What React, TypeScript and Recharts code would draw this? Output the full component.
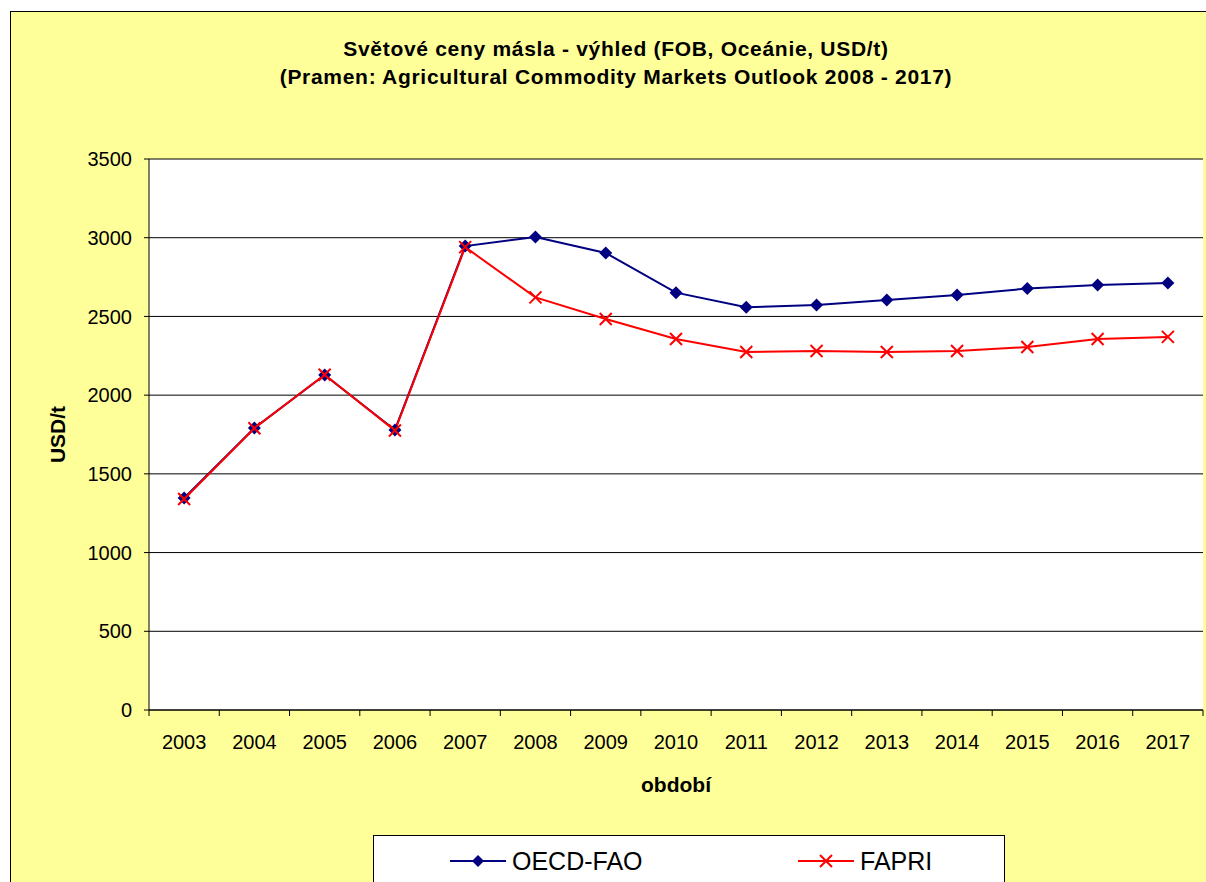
import { LineChart, Line, XAxis, YAxis, CartesianGrid, Legend } from 'recharts';

const categories = ['2003', '2004', '2005', '2006', '2007', '2008', '2009', '2010', '2011', '2012', '2013', '2014', '2015', '2016', '2017'];
const oecdFao = [1347, 1791, 2128, 1779, 2947, 3005, 2903, 2651, 2558, 2573, 2604, 2636, 2677, 2699, 2712];
const fapri = [1340, 1790, 2130, 1775, 2940, 2621, 2484, 2357, 2274, 2280, 2274, 2280, 2306, 2357, 2370];
const yTicks = [0, 500, 1000, 1500, 2000, 2500, 3000, 3500];
const seriesOrder = ['oecd', 'fapri'];

const data = categories.map((year, i) => ({ year, oecd: oecdFao[i], fapri: fapri[i] }));

const FONT = '"Liberation Sans", Arial, sans-serif';
const NAVY = '#000080';
const RED = '#FF0000';
const TICK_SIZE = 6;
const TICK_MARGIN = 19;

const Diamond = ({ cx, cy, r = 6.5 }: any) => (
  <path d={`M${cx},${cy - r}L${cx + r},${cy}L${cx},${cy + r}L${cx - r},${cy}Z`} fill={NAVY} />
);

const Cross = ({ cx, cy, r = 6 }: any) => (
  <path d={`M${cx - r},${cy - r}L${cx + r},${cy + r}M${cx - r},${cy + r}L${cx + r},${cy - r}`} stroke={RED} strokeWidth={2} fill="none" />
);

// ticks sit between categories (Excel style), labels in the middle
const YearTick = ({ x, y, payload, index }: any) => {
  const half = payload?.offset ?? 0;
  const top = y - TICK_MARGIN - TICK_SIZE;
  const bottom = y - TICK_MARGIN;
  return (
    <g>
      <line x1={x - half} x2={x - half} y1={top} y2={bottom} stroke="#000" />
      {index === categories.length - 1 && <line x1={x + half} x2={x + half} y1={top} y2={bottom} stroke="#000" />}
      <text x={x} y={y} dy="0.71em" textAnchor="middle" fontSize={20} fill="#000" fontFamily={FONT}>
        {payload.value}
      </text>
    </g>
  );
};

const LegendBox = ({ payload }: any) => {
  const items = [...(payload || [])].sort((a: any, b: any) => seriesOrder.indexOf(a.dataKey) - seriesOrder.indexOf(b.dataKey));
  return (
    <div style={{ position: 'relative', width: 632, height: 60, background: '#fff', border: '1px solid #000', boxSizing: 'border-box', fontFamily: FONT }}>
      {items.map((item: any, i: number) => (
        <div key={item.value} style={{ position: 'absolute', left: 76 + i * 348, top: 8, height: 34, display: 'flex', alignItems: 'center' }}>
          <svg width={56} height={20}>
            <line x1={0} x2={56} y1={10} y2={10} stroke={item.color} strokeWidth={2} />
            {item.dataKey === 'oecd' ? <Diamond cx={28} cy={10} r={6} /> : <Cross cx={28} cy={10} r={6} />}
          </svg>
          <span style={{ fontSize: 25, marginLeft: 6, color: '#000', lineHeight: '34px' }}>{item.value}</span>
        </div>
      ))}
    </div>
  );
};

export default function App() {
  return (
    <div style={{ position: 'fixed', left: 0, top: 0, width: 1206, height: 882, overflow: 'hidden', background: '#fff' }}>
      <div style={{ position: 'absolute', left: 10, top: 11, width: 1212, height: 900, background: '#FFFF99', border: '1px solid #000' }} />
      <div style={{ position: 'absolute', left: 10, top: 35, width: 1212, textAlign: 'center', fontFamily: FONT, fontWeight: 'bold', fontSize: 21, lineHeight: '28px', letterSpacing: 0.7, color: '#000' }}>
        <div>Světové ceny másla - výhled (FOB, Oceánie, USD/t)</div>
        <div>(Pramen: Agricultural Commodity Markets Outlook 2008 - 2017)</div>
      </div>
      <div style={{ position: 'absolute', left: 0, top: 0 }}>
        <LineChart width={1206} height={882} data={data} margin={{ top: 159, right: 3, left: 39, bottom: 82 }}>
          <CartesianGrid vertical={false} stroke="#000" fill="#fff" fillOpacity={1} />
          <XAxis
            dataKey="year"
            scale="band"
            height={90}
            tickLine={false}
            tickSize={TICK_SIZE}
            tickMargin={TICK_MARGIN}
            axisLine={{ stroke: '#000' }}
            tick={<YearTick />}
            interval={0}
            label={{ value: 'období', position: 'insideBottom', offset: 8, fontSize: 21, fontWeight: 'bold', fill: '#000', fontFamily: FONT }}
          />
          <XAxis xAxisId="top" dataKey="year" orientation="top" height={0} tick={false} tickLine={false} axisLine={{ stroke: '#808080' }} />
          <YAxis
            width={110}
            domain={[0, 3500]}
            ticks={yTicks}
            interval={0}
            tickSize={5}
            tickMargin={12}
            axisLine={{ stroke: '#000' }}
            tickLine={{ stroke: '#000' }}
            tick={{ fontSize: 20, fill: '#000', fontFamily: FONT }}
            label={{ value: 'USD/t', angle: -90, position: 'insideLeft', offset: 19, fontSize: 21, fontWeight: 'bold', fill: '#000', fontFamily: FONT, style: { textAnchor: 'middle' } }}
          />
          <YAxis yAxisId="right" orientation="right" width={0} domain={[0, 3500]} tick={false} tickLine={false} axisLine={{ stroke: '#808080' }} />
          <Line
            type="linear"
            dataKey="oecd"
            name="OECD-FAO"
            stroke={NAVY}
            strokeWidth={2}
            dot={(p: any) => <Diamond key={`d${p.index}`} cx={p.cx} cy={p.cy} />}
            activeDot={false}
            isAnimationActive={false}
          />
          <Line
            type="linear"
            dataKey="fapri"
            name="FAPRI"
            stroke={RED}
            strokeWidth={2}
            dot={(p: any) => <Cross key={`x${p.index}`} cx={p.cx} cy={p.cy} />}
            activeDot={false}
            isAnimationActive={false}
          />
          <Legend
            layout="vertical"
            verticalAlign="middle"
            align="center"
            wrapperStyle={{ left: 373, top: 835, width: 632, height: 60 }}
            content={<LegendBox />}
          />
        </LineChart>
      </div>
    </div>
  );
}
